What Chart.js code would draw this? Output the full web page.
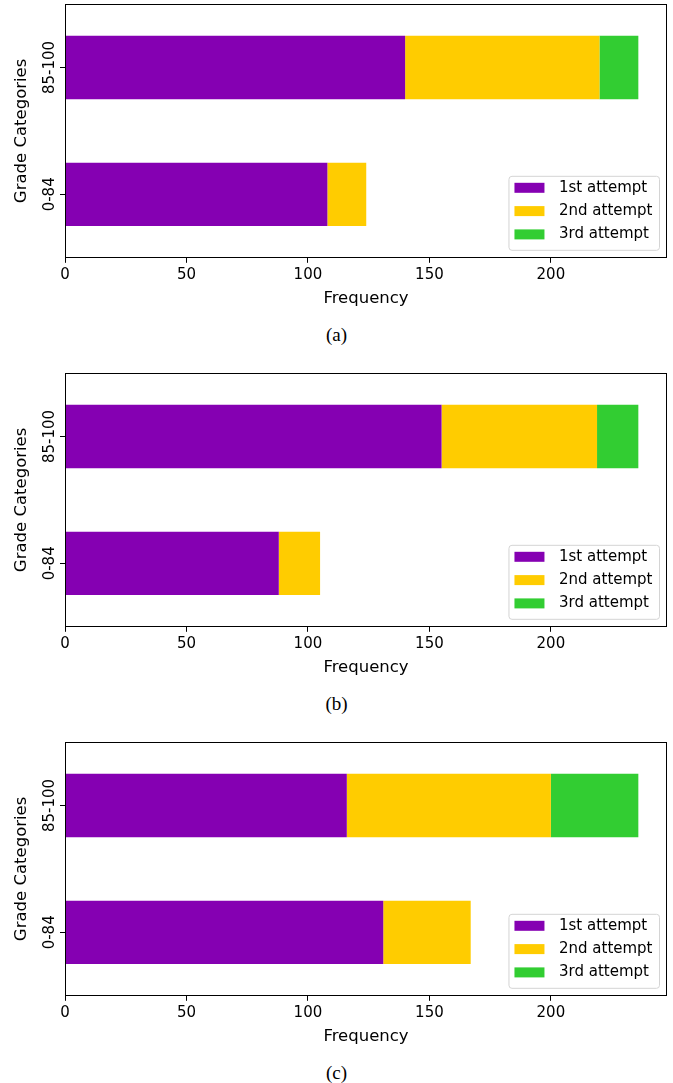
<!DOCTYPE html>
<html>
<head>
<meta charset="utf-8">
<title>Grade Categories by attempt</title>
<script src="https://cdn.jsdelivr.net/npm/chart.js@4.4.1/dist/chart.umd.min.js"></script>
<style>
  body { margin: 0; background: #fff; }
  .panel { position: absolute; left: 0; width: 673px; height: 369px; }
  .panel canvas { position: absolute; left: 0; top: 0; }
  .caption {
    position: absolute; left: 0; top: 323px; width: 673px; height: 24px;
    line-height: 24px; text-align: center; color: #000;
    font-family: "Liberation Serif", "Times New Roman", serif; font-size: 19px;
  }
</style>
</head>
<body>
<div class="panel" style="top:0px"><canvas id="chartA" width="673" height="320"></canvas><div class="caption">(a)</div></div>
<div class="panel" style="top:369px"><canvas id="chartB" width="673" height="320"></canvas><div class="caption">(b)</div></div>
<div class="panel" style="top:738px"><canvas id="chartC" width="673" height="320"></canvas><div class="caption">(c)</div></div>
<script>
const categories = ["85-100", "0-84"];
const attempts = ["1st attempt", "2nd attempt", "3rd attempt"];
const attemptColors = ["#8500b2", "#ffcc00", "#32cd32"];
const xTicks = [0, 50, 100, 150, 200];
const xMax = 247.8; // 236 + 5% margin

// (a)
const aFirst = [140, 108];
const aSecond = [80, 16];
const aThird = [16, 0];
// (b)
const bFirst = [155, 88];
const bSecond = [64, 17];
const bThird = [17, 0];
// (c)
const cFirst = [116, 131];
const cSecond = [84, 36];
const cThird = [36, 0];

const FONT = "'DejaVu Sans', sans-serif";
const FS = 15;      // ticks + legend
const TITLE_FS = 16.5;

// box spines, rotated category labels and the legend inside the plot
const frameAndLabels = {
  id: "frameAndLabels",
  afterDatasetsDraw(chart) {
    const { ctx, chartArea: ca, scales } = chart;
    ctx.save();

    ctx.strokeStyle = "#000";
    ctx.lineWidth = 1;
    const l = Math.round(ca.left) + 0.5, r = Math.round(ca.right) - 0.5;
    const t = Math.round(ca.top) + 0.5, b = Math.round(ca.bottom) - 0.5;
    ctx.strokeRect(l, t, r - l, b - t);

    const y = scales.y;
    ctx.fillStyle = "#000";
    ctx.font = `${FS}px ${FONT}`;
    ctx.textAlign = "center";
    ctx.textBaseline = "alphabetic";
    y.ticks.forEach((tick, i) => {
      ctx.save();
      ctx.translate(ca.left - 11.5, y.getPixelForTick(i));
      ctx.rotate(-Math.PI / 2);
      ctx.fillText(y.getLabelForValue(tick.value), 0, 0);
      ctx.restore();
    });

    const textW = Math.max(...chart.data.datasets.map(d => ctx.measureText(d.label).width));
    const boxW = 50 + textW + 7;
    const boxH = 74;
    const bx = ca.right - 7.5 - boxW;
    const by = ca.bottom - 7.5 - boxH;
    ctx.beginPath();
    ctx.roundRect(bx, by, boxW, boxH, 3);
    ctx.fillStyle = "rgba(255,255,255,0.8)";
    ctx.fill();
    ctx.strokeStyle = "#d4d4d4";
    ctx.stroke();
    ctx.textAlign = "left";
    ctx.textBaseline = "middle";
    chart.data.datasets.forEach((ds, i) => {
      const cy = by + 11.5 + i * 23.3;
      ctx.fillStyle = ds.backgroundColor;
      ctx.fillRect(bx + 5.5, cy - 5, 30, 10);
      ctx.fillStyle = "#000";
      ctx.fillText(ds.label, bx + 50, cy);
    });

    ctx.restore();
  }
};

function makePanel(id, first, second, third) {
  const series = [first, second, third];
  const tickGrid = { display: true, drawOnChartArea: false, drawTicks: true, tickLength: 5, tickColor: "#000", tickWidth: 1 };
  return new Chart(document.getElementById(id), {
    type: "bar",
    data: {
      labels: categories,
      datasets: attempts.map((name, i) => ({
        label: name,
        data: series[i],
        backgroundColor: attemptColors[i],
        borderWidth: 0,
        barPercentage: 0.5,
        categoryPercentage: 1
      }))
    },
    options: {
      indexAxis: "y",
      responsive: false,
      animation: false,
      layout: { padding: { top: 4, right: 6, bottom: 11, left: 0 } },
      plugins: { legend: { display: false }, tooltip: { enabled: false } },
      scales: {
        x: {
          stacked: true,
          min: 0,
          max: xMax,
          afterBuildTicks: (s) => { s.ticks = xTicks.map(v => ({ value: v })); },
          grid: tickGrid,
          border: { display: false },
          ticks: { padding: 3, color: "#000", font: { family: FONT, size: FS } },
          title: { display: true, text: "Frequency", color: "#000", font: { family: FONT, size: TITLE_FS }, padding: { top: 2.4, bottom: 0 } }
        },
        y: {
          stacked: true,
          grid: Object.assign({}, tickGrid, { offset: false }),
          border: { display: false },
          ticks: { display: false },
          title: { display: true, text: "Grade Categories", color: "#000", font: { family: FONT, size: TITLE_FS }, padding: { top: 12, bottom: 28.2 } }
        }
      }
    },
    plugins: [frameAndLabels]
  });
}

makePanel("chartA", aFirst, aSecond, aThird);
makePanel("chartB", bFirst, bSecond, bThird);
makePanel("chartC", cFirst, cSecond, cThird);
</script>
</body>
</html>
